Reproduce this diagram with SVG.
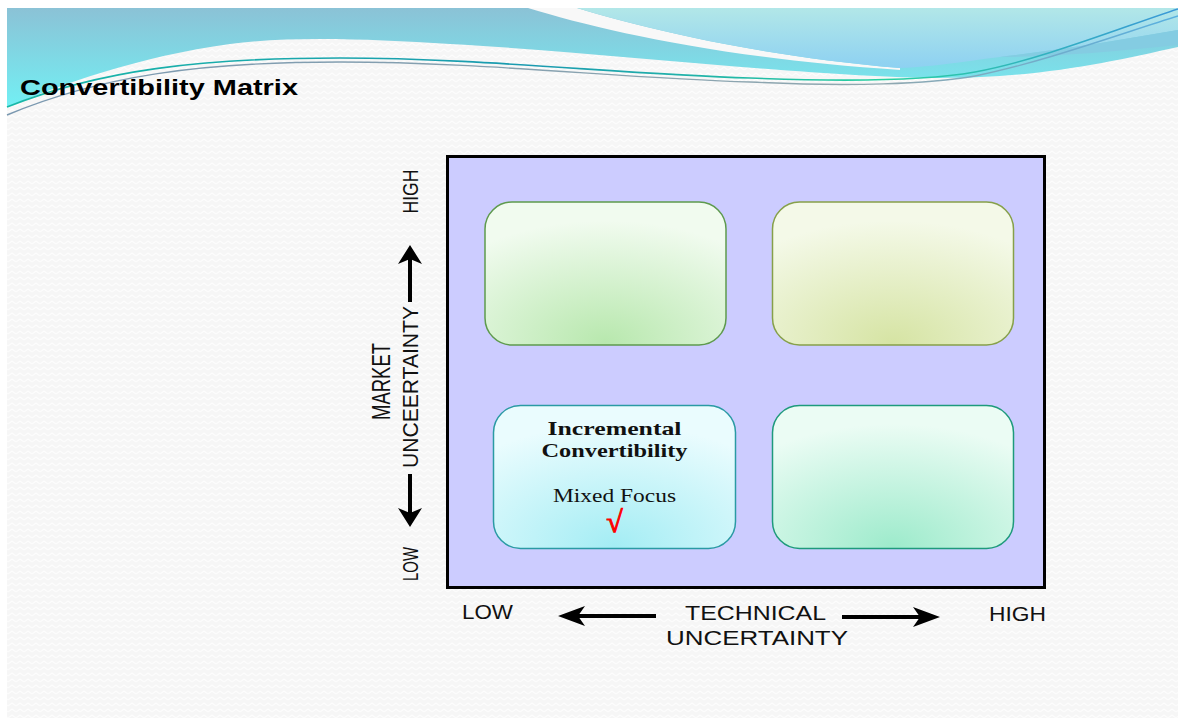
<svg xmlns="http://www.w3.org/2000/svg" width="1178" height="718" viewBox="0 0 1178 718">
  <defs>
    <style>
      .sans { font-family: "Liberation Sans", Arial, sans-serif; fill: #111; }
      .serif { font-family: "Liberation Serif", "Times New Roman", serif; fill: #111; }
      .axis { font-size: 20px; }
      .vaxis { font-size: 22px; }
      .cell { stroke-width: 1.5; }
      .arrow { fill: #000; }
      .shaft { stroke: #000; stroke-width: 4; fill: none; }
    </style>
    <pattern id="weave" width="8" height="6" patternUnits="userSpaceOnUse">
      <rect width="8" height="6" fill="#f6f6f6"/>
      <path d="M0,4 L4,1 L8,4" stroke="#fdfdfd" stroke-width="1.3" fill="none"/>
    </pattern>
    <linearGradient id="waveMain" gradientUnits="userSpaceOnUse" x1="0" y1="8" x2="0" y2="108">
      <stop offset="0" stop-color="#8bc2d6"/>
      <stop offset="1" stop-color="#72f0f4"/>
    </linearGradient>
    <linearGradient id="waveLight" gradientUnits="userSpaceOnUse" x1="0" y1="8" x2="0" y2="70">
      <stop offset="0" stop-color="#b2e7e8"/>
      <stop offset="1" stop-color="#8cd0f2"/>
    </linearGradient>
    <linearGradient id="line1" gradientUnits="userSpaceOnUse" x1="7" y1="0" x2="1178" y2="0">
      <stop offset="0" stop-color="#18b8a8"/>
      <stop offset="0.45" stop-color="#1a9ab0"/>
      <stop offset="0.75" stop-color="#28d0a0"/>
      <stop offset="1" stop-color="#3a98d8"/>
    </linearGradient>
    <linearGradient id="line2" gradientUnits="userSpaceOnUse" x1="7" y1="0" x2="1178" y2="0">
      <stop offset="0" stop-color="#7a98b0"/>
      <stop offset="0.75" stop-color="#90a8b0"/>
      <stop offset="1" stop-color="#58b0e0"/>
    </linearGradient>
    <radialGradient id="fillTL" cx="0.5" cy="0.98" r="0.85">
      <stop offset="0" stop-color="#b8e8ae"/>
      <stop offset="1" stop-color="#f1fbef"/>
    </radialGradient>
    <radialGradient id="fillTR" cx="0.5" cy="0.98" r="0.85">
      <stop offset="0" stop-color="#d6e4a4"/>
      <stop offset="1" stop-color="#f4f9e8"/>
    </radialGradient>
    <radialGradient id="fillBL" cx="0.5" cy="0.98" r="0.85">
      <stop offset="0" stop-color="#a4edf4"/>
      <stop offset="1" stop-color="#eafcfe"/>
    </radialGradient>
    <radialGradient id="fillBR" cx="0.5" cy="0.98" r="0.85">
      <stop offset="0" stop-color="#9eebcc"/>
      <stop offset="1" stop-color="#ebfcf4"/>
    </radialGradient>
  </defs>

  <!-- page -->
  <rect width="1178" height="718" fill="#ffffff"/>
  <rect x="7" y="8" width="1171" height="710" fill="url(#weave)"/>

  <!-- header waves -->
  <g id="header">
    <path d="M7,8 H1178 V47 C1110,62 1040,78 940,78 C820,78 600,52 450,44 C370,39 290,36 230,44 C140,56 60,85 7,107 Z" fill="url(#waveMain)"/>
    <path d="M528,8 C600,30 720,58 900,70 L900,68 C760,56 650,30 577,8 Z" fill="#f8f8f8"/>
    <path d="M577,8 H1178 V30 C1120,40 1060,50 1000,57 C960,62 930,67 900,68 C760,56 650,30 577,8 Z" fill="url(#waveLight)"/>
    <path d="M1000,57 C1060,50 1120,40 1178,30 V45 C1110,52 1050,57 1000,57 Z" fill="#84cce2"/>
    <path d="M7,107 C100,70 200,58 340,58 C480,58 620,74 750,78 C850,82 930,80 975,72 C1040,60 1120,28 1178,9" fill="none" stroke="url(#line1)" stroke-width="1.6"/>
    <path d="M7,115 C100,76 200,62 340,62 C480,62 620,78 750,82 C850,87 930,84 975,76 C1040,63 1120,34 1178,16" fill="none" stroke="url(#line2)" stroke-width="1.4"/>
  </g>

  <text id="title" class="sans" x="20" y="95" font-size="21.5" font-weight="bold" textLength="278" lengthAdjust="spacingAndGlyphs" style="fill:#000">Convertibility Matrix</text>

  <!-- matrix frame -->
  <rect id="frame" x="447.5" y="156.5" width="597" height="431" fill="#ccccff" stroke="#000" stroke-width="3"/>

  <!-- quadrants -->
  <g id="cell-top-left">
    <rect class="cell" x="485" y="202" width="241" height="143" rx="27" fill="url(#fillTL)" stroke="#5e9a4e"/>
  </g>
  <g id="cell-top-right">
    <rect class="cell" x="772.5" y="202" width="241" height="143" rx="27" fill="url(#fillTR)" stroke="#86a04a"/>
  </g>
  <g id="cell-bottom-left">
    <rect class="cell" x="493.5" y="405.5" width="242" height="143" rx="27" fill="url(#fillBL)" stroke="#2a9aa4"/>
    <text class="serif" x="614.5" y="435" font-size="19" font-weight="bold" text-anchor="middle" textLength="134" lengthAdjust="spacingAndGlyphs">Incremental</text>
    <text class="serif" x="614.5" y="457" font-size="19" font-weight="bold" text-anchor="middle" textLength="146" lengthAdjust="spacingAndGlyphs">Convertibility</text>
    <text class="serif" x="614.5" y="502" font-size="18" text-anchor="middle" textLength="123" lengthAdjust="spacingAndGlyphs">Mixed Focus</text>
    <text class="serif" x="614.5" y="532" font-size="30" font-weight="bold" text-anchor="middle" stroke="#ff0000" stroke-width="1" style="fill:#ff0000">√</text>
  </g>
  <g id="cell-bottom-right">
    <rect class="cell" x="772.5" y="405.5" width="241" height="143" rx="27" fill="url(#fillBR)" stroke="#1e9a7c"/>
  </g>

  <!-- axis labels -->
  <g id="axis-market">
    <text class="sans vaxis" transform="translate(418,191.5) rotate(-90)" text-anchor="middle" textLength="44" lengthAdjust="spacingAndGlyphs">HIGH</text>
    <text class="sans" font-size="25" transform="translate(390,381.5) rotate(-90)" text-anchor="middle" textLength="77" lengthAdjust="spacingAndGlyphs">MARKET</text>
    <text class="sans vaxis" transform="translate(418,387) rotate(-90)" text-anchor="middle" textLength="162" lengthAdjust="spacingAndGlyphs">UNCEERTAINTY</text>
    <text class="sans vaxis" transform="translate(418,564) rotate(-90)" text-anchor="middle" textLength="34" lengthAdjust="spacingAndGlyphs">LOW</text>
  </g>
  <g id="axis-technical">
    <text class="sans axis" x="462" y="619" textLength="51" lengthAdjust="spacingAndGlyphs">LOW</text>
    <text class="sans axis" x="685" y="620" textLength="141" lengthAdjust="spacingAndGlyphs">TECHNICAL</text>
    <text class="sans axis" x="666" y="645" textLength="182" lengthAdjust="spacingAndGlyphs">UNCERTAINTY</text>
    <text class="sans axis" x="989" y="621" textLength="57" lengthAdjust="spacingAndGlyphs">HIGH</text>
  </g>

  <!-- axis arrows -->
  <g id="connectors">
    <line class="shaft" x1="410" y1="302" x2="410" y2="258"/>
    <path class="arrow" d="M410,245 L422,264 L410,259 L398,264 Z"/>
    <line class="shaft" x1="410" y1="474" x2="410" y2="514"/>
    <path class="arrow" d="M410,527 L422,508 L410,513 L398,508 Z"/>
    <line class="shaft" x1="656" y1="616" x2="575" y2="616"/>
    <path class="arrow" d="M558,616 L585,606 L578,616 L585,626 Z"/>
    <line class="shaft" x1="842" y1="617" x2="923" y2="617"/>
    <path class="arrow" d="M940,617 L913,607 L920,617 L913,627 Z"/>
  </g>
</svg>
